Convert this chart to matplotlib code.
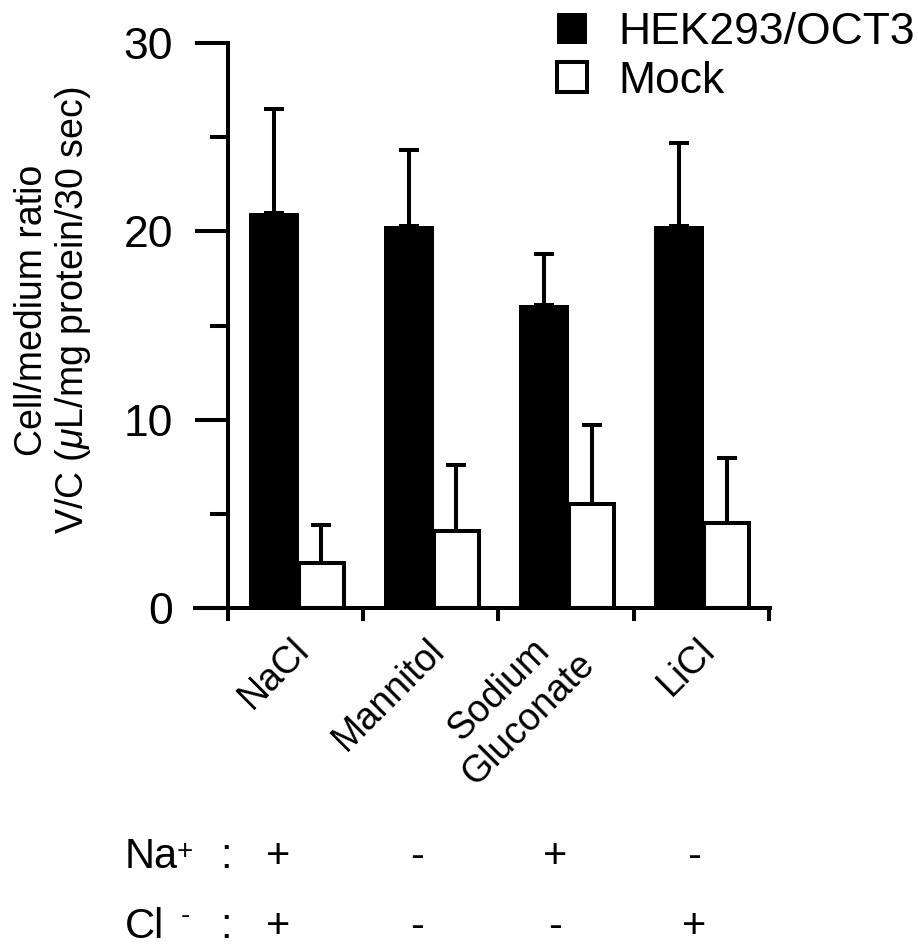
import matplotlib
matplotlib.use("Agg")
import matplotlib.pyplot as plt
import matplotlib.transforms as mtransforms
import numpy as np

plt.rcParams['font.family'] = ['Liberation Sans', 'DejaVu Sans']
plt.rcParams['mathtext.fontset'] = 'custom'
plt.rcParams['mathtext.rm'] = 'Liberation Sans'
plt.rcParams['mathtext.it'] = 'Liberation Sans:italic'

# ---- data ----
categories = ["NaCl", "Mannitol", "Sodium\nGluconate", "LiCl"]
oct3_mean = [21.0, 20.3, 16.1, 20.3]
oct3_err = [5.5, 4.0, 2.7, 4.4]
mock_mean = [2.4, 4.1, 5.5, 4.5]
mock_err = [2.0, 3.5, 4.2, 3.45]
na_row = ["+", "-", "+", "-"]
cl_row = ["+", "-", "-", "+"]
series_labels = ["HEK293/OCT3", "Mock"]
yticks_major = [0, 10, 20, 30]
yticks_minor = [5, 15, 25]

W, H = 918, 948
fig = plt.figure(figsize=(W / 100, H / 100), dpi=100)

def fx(px):
    return px / W

def fy(py):
    return 1 - py / H

ax = fig.add_axes([fx(195), fy(608), fx(770) - fx(195), fy(43) - fy(608)])

lw = 2.9
x = np.arange(len(categories))
bw_black = 0.37
bw_white = 0.33
xb = x - 0.345 + bw_black / 2
xw = x + 0.025 + bw_white / 2
b1 = ax.bar(xb, oct3_mean, width=bw_black, color='black',
            edgecolor='black', linewidth=0, label=series_labels[0], zorder=2)
b2 = ax.bar(xw, mock_mean, width=bw_white, color='white',
            edgecolor='black', linewidth=lw, label=series_labels[1], zorder=2)

ax.errorbar(xb, oct3_mean, yerr=[np.zeros(len(x)), oct3_err], fmt='none',
            ecolor='black', elinewidth=lw, capsize=7.2, capthick=lw, zorder=3)
ax.errorbar(xw, mock_mean, yerr=[np.zeros(len(x)), mock_err], fmt='none',
            ecolor='black', elinewidth=lw, capsize=7.2, capthick=lw, zorder=1)

ax.set_ylim(0, 30)
ax.set_xlim(-0.745, 3.51)

for s in ['top', 'right']:
    ax.spines[s].set_visible(False)
ax.spines['left'].set_position(('data', -0.5))
ax.spines['left'].set_linewidth(lw)
ax.spines['bottom'].set_linewidth(lw)
ax.spines['left'].set_capstyle('projecting')

ax.set_yticks(yticks_major)
ax.set_yticklabels([str(v) for v in yticks_major], fontsize=32)
ax.set_yticks(yticks_minor, minor=True)
ax.tick_params(axis='y', which='major', direction='out', length=23.8, width=lw, pad=16)
ax.tick_params(axis='y', which='minor', direction='out', length=13, width=lw)

ax.set_xticks(np.arange(len(categories) + 1) - 0.5)
ax.set_xticklabels([])
ax.tick_params(axis='x', which='major', direction='out', length=9, width=lw)
ax.set_xticks(x + 0.06, categories, minor=True)
ax.tick_params(axis='x', which='minor', length=0, pad=26)
for lab in ax.get_xticklabels(minor=True):
    lab.set_rotation(45)
    lab.set_ha('right')
    lab.set_va('center')
    lab.set_rotation_mode('anchor')
    lab.set_fontsize(27)
    lab.set_multialignment('center')

# y label
fig.text(fx(54), fy(310), "Cell/medium ratio\nV/C ($\\mu$L/mg protein/30 sec)",
         rotation=90, ha='center', va='center', multialignment='center',
         fontsize=27, linespacing=1.1)

# legend
ax.legend(handles=[b1, b2], labels=series_labels, loc='upper left',
          bbox_to_anchor=(fx(557), fy(12)), bbox_transform=fig.transFigure,
          frameon=False, fontsize=32, handlelength=0.67, handleheight=0.67,
          handletextpad=0.72, labelspacing=0.17, borderpad=0, borderaxespad=0)

# ion rows
trans = mtransforms.blended_transform_factory(ax.transData, fig.transFigure)
rows = [("Na", "+", 868, 852, na_row), ("Cl", "-", 938, 916, cl_row)]
for name, sup, base, supy, signs in rows:
    fig.text(fx(125), fy(base), name, fontsize=30, ha='left', va='baseline')
    fig.text(fx(185), fy(supy), sup, fontsize=20, ha='center', va='center')
    fig.text(fx(226), fy(base), ":", fontsize=30, ha='center', va='baseline')
    for i, sgn in enumerate(signs):
        ax.text(x[i] * 1.025 - 0.13, fy(base), sgn, transform=trans, fontsize=30,
                ha='center', va='baseline')

fig.savefig("out.png", dpi=100)
